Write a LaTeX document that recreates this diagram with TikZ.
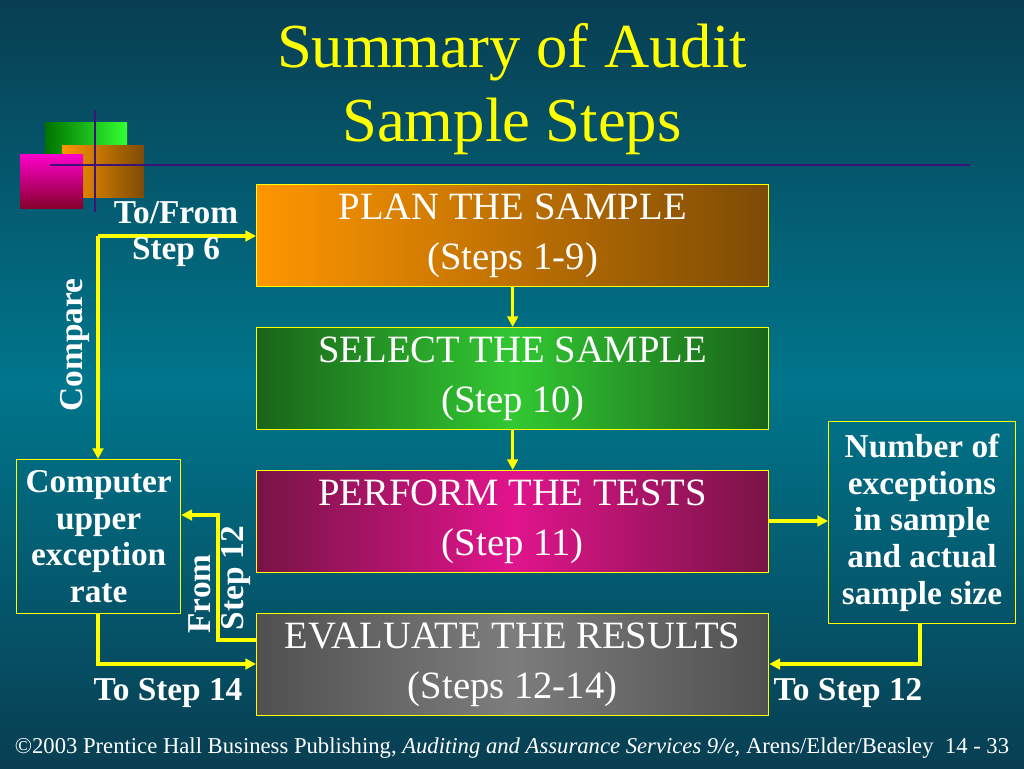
\documentclass[tikz,border=0pt]{standalone}
\usepackage{fontspec}
\setmainfont{Liberation Serif}
\usetikzlibrary{arrows.meta}
\definecolor{ylw}{RGB}{255,255,0}
\definecolor{bgtop}{RGB}{8,62,82}
\definecolor{bgmid}{RGB}{0,118,140}
\definecolor{navy}{RGB}{60,20,120}
\definecolor{porange}{RGB}{255,150,0}
\definecolor{pbrown}{RGB}{125,75,5}
\definecolor{gdark}{RGB}{25,100,25}
\definecolor{glight}{RGB}{50,200,50}
\definecolor{mdark}{RGB}{120,20,70}
\definecolor{mlight}{RGB}{225,20,140}
\definecolor{edark}{RGB}{80,80,80}
\definecolor{elight}{RGB}{125,125,125}
\tikzset{
 box/.style={draw=ylw,line width=1pt,text=white,font=\fontsize{29}{37.5}\selectfont,align=center,minimum width=384pt,minimum height=76.5pt,anchor=north west},
 side/.style={draw=ylw,line width=1pt,text=white,font=\bfseries\fontsize{25}{27.5}\selectfont,align=center,anchor=north west},
 lbl/.style={text=white,font=\bfseries\fontsize{25}{27.5}\selectfont,align=center},
 conn/.style={draw=ylw,line width=2.6pt,-{Triangle[length=8pt,width=8pt]}},
}
\begin{document}
\begin{tikzpicture}[x=0.75pt,y=-0.75pt]
\useasboundingbox (0,0) rectangle (1024,768);
\shade[top color=bgtop,bottom color=bgmid] (0,0) rectangle (1024,384);
\shade[top color=bgmid,bottom color=bgtop] (0,384) rectangle (1024,768);
% decoration
\shade[left color=green!45!black,right color=green!80!white] (45,122) rectangle (127,156);
\shade[left color=porange,right color=pbrown] (62,145) rectangle (144,197);
\shade[top color=magenta!80!red,bottom color=purple!70!black] (20,154) rectangle (83,208);
\draw[navy,line width=2pt] (50,165) -- (970,165);
\draw[navy,line width=2pt] (95,110) -- (95,212);
\node[text=ylw,font=\fontsize{47}{55}\selectfont,align=center] (title) at (512,89) {Summary of Audit\\Sample Steps};
% boxes
\node[box,left color=porange,right color=pbrown] (plan) at (256,184) {PLAN THE SAMPLE\\(Steps 1-9)};
\node[box,left color=gdark,right color=gdark,middle color=glight] (sel) at (256,327) {SELECT THE SAMPLE\\(Step 10)};
\node[box,left color=mdark,right color=mdark,middle color=mlight] (perf) at (256,470) {PERFORM THE TESTS\\(Step 11)};
\node[box,left color=edark,right color=edark,middle color=elight] (eval) at (256,613) {EVALUATE THE RESULTS\\(Steps 12-14)};
\node[side,minimum width=123pt,minimum height=115.5pt] (cur) at (16,459) {Computer\\upper\\exception\\rate};
\node[side,minimum width=140pt,minimum height=151.5pt] (num) at (828,421) {Number of\\exceptions\\in sample\\and actual\\sample size};
% connectors
\draw[conn] (plan.south) -- (sel.north);
\draw[conn] (sel.south) -- (perf.north);
\coordinate (c1) at (98,236);
\draw[conn] (c1) -- (plan.west |- c1);
\draw[conn] (c1) -- (cur.north -| c1);
\draw[conn] (cur.south -| 98,0) -- (98,664) -- (eval.west |- 0,664);
\draw[conn] (eval.west |- 0,640) -- (218,640) -- (218,515) -- (cur.east |- 0,515);
\draw[conn] (perf.east |- 0,521) -- (num.west |- 0,521);
\draw[conn] (num.south -| 920,0) -- (920,664) -- (eval.east |- 0,664);
% labels
\node[lbl] (tf) at (176,234) {To/From\\Step 6};
\node[lbl,rotate=90] (cmp) at (75,345) {Compare};
\node[lbl,rotate=90] (fr) at (200,594) {From};
\node[lbl,rotate=90] (s12) at (236,578) {Step 12};
\node[lbl] (t14) at (168,693) {To Step 14};
\node[lbl] (t12) at (848,693) {To Step 12};
\node[text=white,font=\fontsize{17}{19}\selectfont] (foot) at (512,748) {\textcopyright2003 Prentice Hall Business Publishing, \textit{Auditing and Assurance Services 9/e,} Arens/Elder/Beasley\ \ 14 - 33};
\end{tikzpicture}
\end{document}
